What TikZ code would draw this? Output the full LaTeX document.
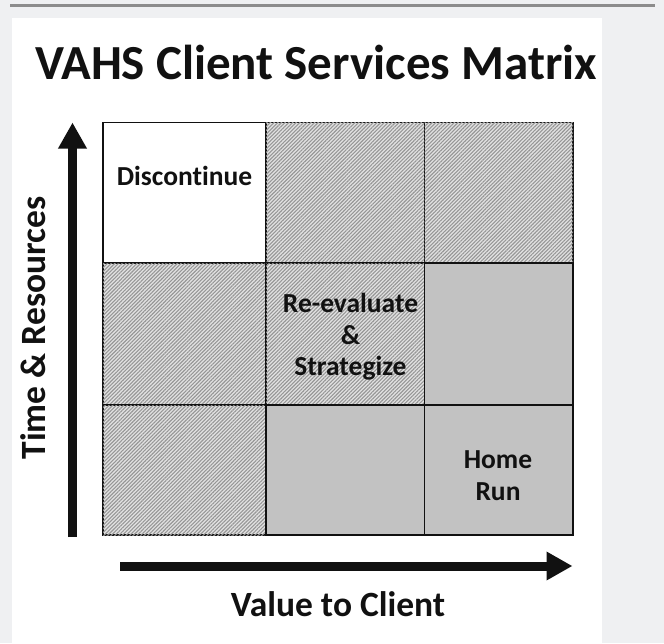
\documentclass[tikz,border=0pt]{standalone}
\usepackage{fontspec}
\setmainfont{Carlito}[Ligatures=NoCommon]
\usetikzlibrary{patterns.meta,arrows.meta}

\definecolor{pagebg}{HTML}{EFF0F2}
\definecolor{rulegray}{HTML}{8C8C8C}
\definecolor{cellgray}{HTML}{C2C2C2}
\definecolor{hatchbg}{HTML}{E2E2E2}
\definecolor{hatchline}{HTML}{969696}
\definecolor{inkdark}{HTML}{111111}

\tikzset{
  cellbox/.style={draw=inkdark, line width=1.4pt, inner sep=0pt, outer sep=0pt, anchor=north west},
  cellplain/.style={cellbox, fill=white},
  cellsolid/.style={cellbox, fill=cellgray},
  cellhatch/.style={cellbox, fill=hatchbg,
    postaction={pattern={Lines[angle=45,distance=2.6pt,line width=1.1pt]}, pattern color=hatchline}},
  cellnote/.style={font=\fontsize{27.5}{32}\selectfont\bfseries, text=inkdark, anchor=base, inner sep=0pt},
  axisnote/.style={font=\fontsize{35.5}{40}\selectfont\bfseries, text=inkdark, inner sep=0pt},
  bigarrow/.style={draw=inkdark, line width=9pt, -{Triangle[length=26pt,width=27pt]}},
}

\begin{document}
\begin{tikzpicture}[x=1pt,y=1pt]
  % page and white panel
  \fill[pagebg] (0,0) rectangle (664,-643);
  \useasboundingbox (0,0) rectangle (664,-643);
  \draw[rulegray, line width=3pt] (10,-5) -- (655,-5);
  \fill[white] (12,-18) rectangle (602,-643);

  % title
  \node[font=\fontsize{49}{59}\selectfont\bfseries, text=inkdark, anchor=base, inner sep=0pt]
    (title) at (316,-79) {VAHS Client Services Matrix};

  % 3x3 matrix: columns at 103, 266, 424.5, 573; rows at 122.5, 263, 405, 535
  \node[cellplain, minimum width=163pt,   minimum height=140.5pt] (r1c1) at (103,-122.5) {};
  \node[cellhatch, minimum width=158.5pt, minimum height=140.5pt] (r1c2) at (266,-122.5) {};
  \node[cellhatch, minimum width=148.5pt, minimum height=140.5pt] (r1c3) at (424.5,-122.5) {};
  \node[cellhatch, minimum width=163pt,   minimum height=142pt]   (r2c1) at (103,-263) {};
  \node[cellhatch, minimum width=158.5pt, minimum height=142pt]   (r2c2) at (266,-263) {};
  \node[cellsolid, minimum width=148.5pt, minimum height=142pt]   (r2c3) at (424.5,-263) {};
  \node[cellhatch, minimum width=163pt,   minimum height=130pt]   (r3c1) at (103,-405) {};
  \node[cellsolid, minimum width=158.5pt, minimum height=130pt]   (r3c2) at (266,-405) {};
  \node[cellsolid, minimum width=148.5pt, minimum height=130pt]   (r3c3) at (424.5,-405) {};

  % cell labels
  \node[cellnote] (discontinue) at (184.5,-185) {Discontinue};
  \node[cellnote] (reeval)      at (350.5,-312) {Re-evaluate};
  \node[cellnote] (amp)         at (350.5,-344) {\&};
  \node[cellnote] (strategize)  at (350.5,-375) {Strategize};
  \node[cellnote] (home)        at (498,-468)   {Home};
  \node[cellnote] (run)         at (498,-500)   {Run};

  % axes
  \coordinate (vbase) at (72.5,-537);
  \coordinate (vtip)  at (72.5,-122.5);
  \coordinate (hbase) at (120,-566);
  \coordinate (htip)  at (572.5,-566);
  \draw[bigarrow] (vbase) -- (vtip);
  \draw[bigarrow] (hbase) -- (htip);

  \node[axisnote, rotate=90] (ylabel) at (33,-328) {Time \& Resources};
  \node[axisnote, anchor=base] (xlabel) at (338,-616) {Value to Client};
\end{tikzpicture}
\end{document}
